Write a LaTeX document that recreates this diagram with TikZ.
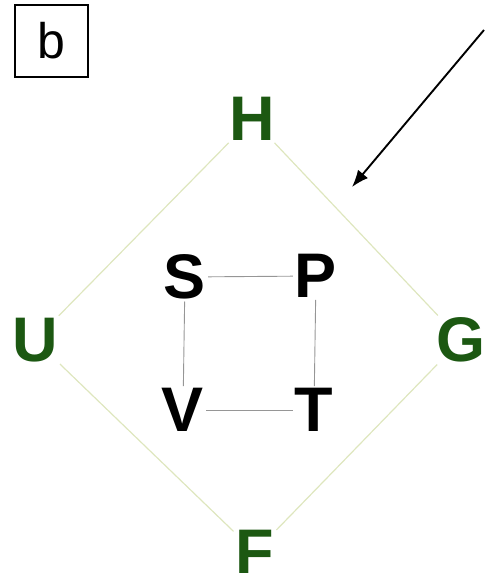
\documentclass[tikz,border=0pt]{standalone}
\usepackage{fontspec}
\setmainfont{Liberation Sans}
\usetikzlibrary{arrows.meta}
\definecolor{lettergreen}{RGB}{28,88,18}
\definecolor{diamondline}{RGB}{222,230,190}
\definecolor{squareline}{RGB}{150,150,150}
\begin{document}
\begin{tikzpicture}[x=1pt,y=-1pt,
  outer/.style={text=lettergreen,font=\fontsize{63}{63}\selectfont\bfseries,inner sep=2pt},
  inner/.style={text=black,font=\fontsize{63}{63}\selectfont\bfseries,inner sep=2pt},
  dline/.style={draw=diamondline,line width=1.2pt},
  sline/.style={draw=squareline,line width=0.9pt},
  labelbox/.style={draw=black,line width=1.8pt,minimum width=73pt,minimum height=72pt,inner sep=0pt,font=\fontsize{50}{50}\selectfont}]
\useasboundingbox (0,0) rectangle (485,586);
\node[labelbox] (b) at (51.5,41) {b};
\node[outer] (H) at (252,119) {H};
\node[outer] (U) at (35,340) {U};
\node[outer] (G) at (461,340) {G};
\node[outer] (F) at (255,552) {F};
\node[inner] (S) at (185,277) {S};
\node[inner] (P) at (316,276) {P};
\node[inner] (V) at (183,410) {V};
\node[inner] (T) at (314,410) {T};
\draw[dline] (H) -- (U);
\draw[dline] (H) -- (G);
\draw[dline] (U) -- (F);
\draw[dline] (G) -- (F);
\draw[sline] (S) -- (P);
\draw[sline] (P) -- (T);
\draw[sline] (V) -- (T);
\draw[sline] (S) -- (V);
\coordinate (arrstart) at (484,30);
\coordinate (arrtip) at (352,187);
\draw[line width=1.9pt,-{Latex[length=17pt,width=13pt]}] (arrstart) -- (arrtip);
\end{tikzpicture}
\end{document}
